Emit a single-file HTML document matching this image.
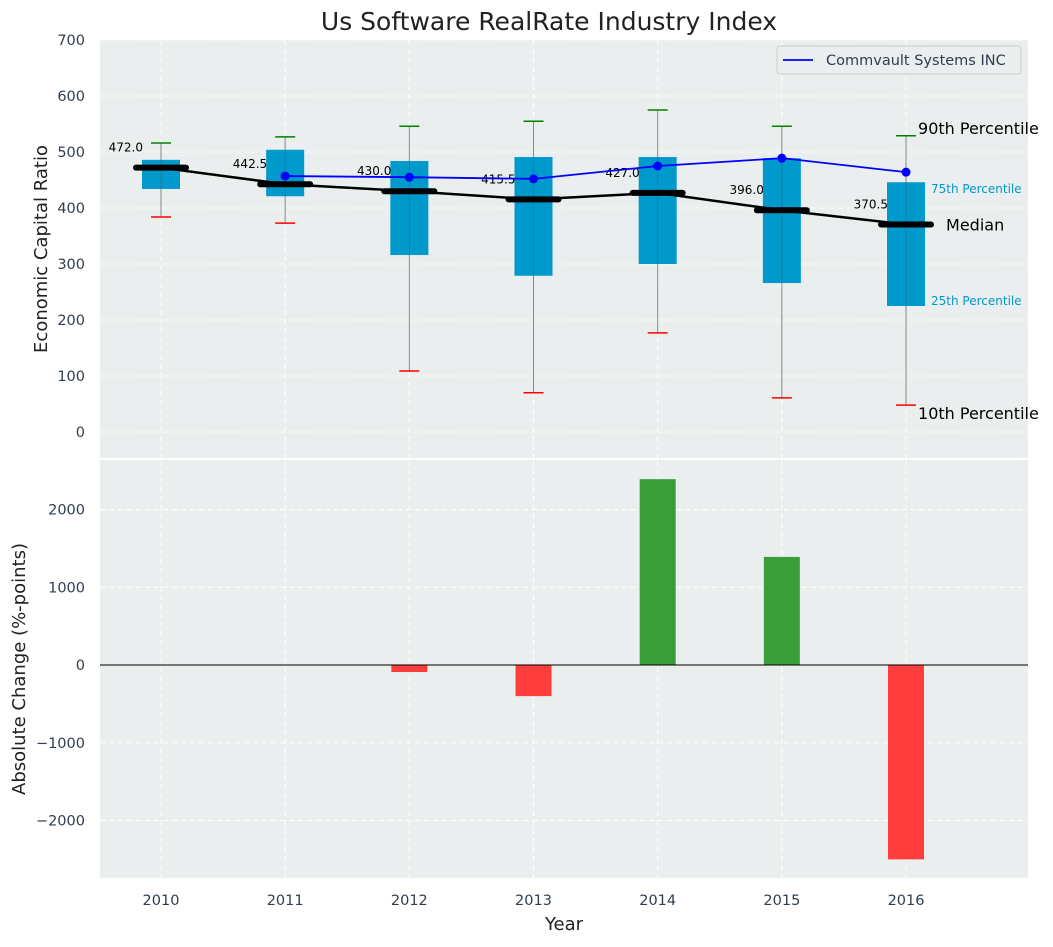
<!DOCTYPE html>
<html><head><meta charset="utf-8"><style>
body{margin:0;background:#fff;font-family:"Liberation Sans","DejaVu Sans",sans-serif;}
svg text{font-family:"DejaVu Sans","Liberation Sans",sans-serif;}
</style></head><body>
<svg id="chart" width="1053" height="942" xmlns="http://www.w3.org/2000/svg"></svg>
<script>
const years=[2010,2011,2012,2013,2014,2015,2016];
const p10=[384,373,109,70,177,61,48];
const p25=[434,421,316,279,300,266,225];
const median=[472,442.5,430,415.5,427,396,370.5];
const p75=[486,504,484,491,491,489,446];
const p90=[516,527,546,555,575,546,529];
const company=[null,457,455,452,475,489,464];
const changes=[0,0,-90,-400,2390,1390,-2500];
const topTicks=[0,100,200,300,400,500,600,700];
const botTicks=[-2000,-1000,0,1000,2000];

const NS="http://www.w3.org/2000/svg";
const svg=document.getElementById('chart');
function el(t,a,p){const e=document.createElementNS(NS,t);for(const k in a)e.setAttribute(k,a[k]);(p||svg).appendChild(e);return e;}
const L=100,R=1028;
const x=v=>161+(v-2010)*124.17;
const yT=v=>432-v*0.56;
const yB=v=>665-v*0.07775;

let bg1=el('rect',{x:L,y:40,width:R-L,height:418,fill:'#eaeeee'});


let bg2=el('rect',{x:L,y:460,width:R-L,height:418,fill:'#eaeeee'});



years.forEach(yr=>{
 el('line',{x1:x(yr),x2:x(yr),y1:40,y2:458,stroke:'#fff','stroke-dasharray':'5,4','stroke-width':1});
 el('line',{x1:x(yr),x2:x(yr),y1:460,y2:878,stroke:'#fff','stroke-dasharray':'5,4','stroke-width':1});
 let t=el('text',{x:x(yr),y:905,'text-anchor':'middle','font-size':14.5,fill:'#2f3e4e'});t.textContent=yr;
 
 
});
topTicks.forEach(v=>{
 el('line',{x1:L,x2:R,y1:yT(v),y2:yT(v),stroke:'#fff','stroke-dasharray':'5,4'});
 let t=el('text',{x:85,y:yT(v)+5,'text-anchor':'end','font-size':14.5,fill:'#2f3e4e'});t.textContent=v;
 
 
});
botTicks.forEach(v=>{
 el('line',{x1:L,x2:R,y1:yB(v),y2:yB(v),stroke:'#fff','stroke-dasharray':'5,4'});
 let t=el('text',{x:85,y:yB(v)+5,'text-anchor':'end','font-size':14.5,fill:'#2f3e4e'});t.textContent=(v<0?'\u2212'+(-v):v);
 
 
});

years.forEach((yr,i)=>{
 const cx=x(yr);
 el('line',{x1:cx,x2:cx,y1:yT(p90[i]),y2:yT(p10[i]),stroke:'#888','stroke-width':1});
 let b=el('rect',{x:cx-19,y:yT(p75[i]),width:38,height:yT(p25[i])-yT(p75[i]),fill:'#0099cc'});
 
 
 el('line',{x1:cx,x2:cx,y1:yT(p75[i]),y2:yT(p25[i]),stroke:'#555','stroke-width':0.8,opacity:0.6});
 el('line',{x1:cx-10,x2:cx+10,y1:yT(p90[i]),y2:yT(p90[i]),stroke:'green','stroke-width':1.5});
 el('line',{x1:cx-10,x2:cx+10,y1:yT(p10[i]),y2:yT(p10[i]),stroke:'red','stroke-width':1.5});
 el('line',{x1:cx-25,x2:cx+25,y1:yT(median[i]),y2:yT(median[i]),stroke:'#000','stroke-width':6,'stroke-linecap':'round'});
 let t=el('text',{x:cx-18,y:yT(median[i])-16,'text-anchor':'end','font-size':12,fill:'#000'});t.textContent=median[i].toFixed(1);
 
 
});
let ml=el('polyline',{points:years.map((yr,i)=>x(yr)+','+yT(median[i])).join(' '),fill:'none',stroke:'#000','stroke-width':2.5});


const pts=years.map((yr,i)=>company[i]==null?null:[x(yr),yT(company[i])]).filter(p=>p);
let cl=el('polyline',{points:pts.map(p=>p.join(',')).join(' '),fill:'none',stroke:'blue','stroke-width':1.8});


pts.forEach(p=>{let c=el('circle',{cx:p[0],cy:p[1],r:4.5,fill:'blue'});
 
 });

const lx=x(2016);
[['90th Percentile',lx+12,yT(529)-2,16,'#000'],['75th Percentile',lx+25,yT(446)+11,12,'#0099cc'],['Median',lx+40,yT(370.5)+6,16,'#000'],['25th Percentile',lx+25,yT(225)-1,12,'#0099cc'],['10th Percentile',lx+12,yT(48)+14,16,'#000']].forEach(a=>{
 let t=el('text',{x:a[1],y:a[2],'font-size':a[3],fill:a[4]});t.textContent=a[0];
 
 
});

let lg=el('g',{});


el('rect',{x:777,y:46,width:244,height:28,rx:3,fill:'#eaeeee',stroke:'#ccc'},lg);
el('line',{x1:783,x2:813,y1:60,y2:60,stroke:'blue','stroke-width':1.8},lg);
let lt=el('text',{x:826,y:65,'font-size':14.5,fill:'#2f3e4e'},lg);lt.textContent='Commvault Systems INC';

years.forEach((yr,i)=>{
 const v=changes[i]; if(v===0)return;
 const y0=yB(0),y1=yB(v);
 let r=el('rect',{x:x(yr)-18,y:Math.min(y0,y1),width:36,height:Math.abs(y1-y0),fill:v>0?'#3a9d3a':'#ff3d3d'});
 
 
});
el('line',{x1:L,x2:R,y1:yB(0),y2:yB(0),stroke:'#000','stroke-width':1});

let tt=el('text',{x:549,y:30,'text-anchor':'middle','font-size':25,fill:'#222'});tt.textContent='Us Software RealRate Industry Index';


let xt=el('text',{x:564,y:930,'text-anchor':'middle','font-size':18,fill:'#222'});xt.textContent='Year';


let y1t=el('text',{x:47,y:249,'text-anchor':'middle','font-size':18,fill:'#222',transform:'rotate(-90 47 249)'});y1t.textContent='Economic Capital Ratio';


let y2t=el('text',{x:25,y:669,'text-anchor':'middle','font-size':18,fill:'#222',transform:'rotate(-90 25 669)'});y2t.textContent='Absolute Change (%-points)';


</script>
</body></html>
